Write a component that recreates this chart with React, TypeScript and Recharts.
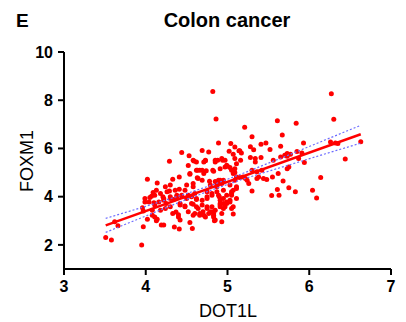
import React from 'react';
import { ScatterChart, Scatter, XAxis, YAxis } from 'recharts';

const xTicks = [3, 4, 5, 6, 7];
const yTicks = [2, 4, 6, 8, 10];

// [DOT1L, FOXM1]
const samples: [number, number][] = [
  [3.51, 2.31], [3.58, 2.2], [3.62, 2.96], [3.66, 2.79], [3.95, 2.0], [3.97, 2.75],
  [3.96, 3.54], [3.97, 3.41], [3.99, 3.78], [3.99, 3.92], [4.05, 3.97], [4.04, 3.78],
  [4.02, 4.72], [4.14, 4.57], [4.09, 4.17], [4.07, 4.02], [4.11, 4.06], [4.1, 3.75],
  [4.11, 3.65], [4.08, 3.44], [4.08, 3.23], [4.02, 3.06], [4.11, 3.16], [4.13, 3.0],
  [4.14, 3.06], [4.19, 2.82], [4.16, 3.78], [4.22, 3.85], [4.18, 3.44], [4.24, 3.51],
  [4.25, 3.72], [4.13, 4.27], [4.18, 4.13], [4.21, 4.0], [4.22, 3.92], [4.26, 4.2],
  [4.29, 4.24], [4.24, 4.41], [4.3, 4.48], [4.29, 5.47], [4.33, 4.72], [4.41, 4.82],
  [4.44, 5.83], [4.3, 4.0], [4.3, 3.92], [4.34, 3.88], [4.38, 4.0], [4.38, 4.06],
  [4.44, 4.02], [4.44, 4.06], [4.36, 4.27], [4.41, 4.31], [4.48, 4.27], [4.52, 4.06],
  [4.5, 4.48], [4.58, 4.55], [4.58, 4.41], [4.6, 4.13], [4.64, 4.75], [4.69, 4.68],
  [4.63, 4.78], [4.54, 4.93], [4.54, 4.96], [4.52, 5.29], [4.53, 5.7], [4.59, 5.48],
  [4.58, 5.51], [4.62, 5.44], [4.73, 5.49], [4.71, 5.44], [4.73, 5.51], [4.69, 5.91],
  [4.77, 5.85], [4.82, 8.36], [4.86, 7.22], [4.89, 6.23], [4.62, 5.1], [4.63, 5.1],
  [4.66, 5.1], [4.69, 5.1], [4.71, 4.96], [4.74, 5.07], [4.82, 5.1], [4.83, 5.05],
  [4.91, 5.16], [4.85, 5.51], [4.88, 5.51], [4.94, 5.51], [4.85, 5.44], [5.0, 5.26],
  [5.03, 5.21], [4.97, 5.23], [4.99, 5.3], [5.07, 5.1], [5.09, 5.0], [5.05, 5.1],
  [5.07, 4.96], [5.09, 5.16], [5.11, 5.37], [4.93, 5.58], [4.97, 5.51], [5.04, 6.2],
  [5.09, 6.06], [5.14, 5.9], [5.02, 5.88], [5.07, 5.76], [5.15, 5.9], [5.17, 5.81],
  [5.09, 5.58], [5.16, 5.51], [5.21, 6.88], [5.3, 6.48], [5.28, 6.07], [5.32, 5.95],
  [5.41, 6.17], [5.47, 6.23], [5.52, 5.96], [5.65, 6.09], [5.61, 7.15], [5.67, 6.56],
  [5.84, 7.04], [5.93, 6.23], [6.27, 8.27], [6.3, 7.21], [6.26, 6.27], [6.32, 6.23],
  [6.35, 6.2], [6.63, 6.28], [5.28, 5.62], [5.34, 5.58], [5.34, 5.44], [5.41, 5.62],
  [5.56, 5.51], [5.65, 5.65], [5.73, 5.68], [5.73, 5.79], [5.77, 5.76], [5.85, 5.87],
  [5.91, 5.81], [5.7, 5.72], [5.87, 5.58], [5.94, 5.42], [5.75, 5.23], [6.44, 5.56],
  [6.14, 4.79], [6.04, 4.27], [6.09, 3.94], [5.83, 4.2], [5.75, 4.37], [5.68, 4.65],
  [5.54, 4.05], [5.63, 4.06], [5.61, 4.3], [5.62, 4.96], [5.55, 4.82], [5.48, 4.71],
  [5.38, 4.82], [5.42, 5.1], [5.3, 4.23], [5.26, 4.55], [5.24, 4.68], [5.19, 4.82],
  [5.15, 4.79], [5.11, 4.82], [5.22, 4.75], [5.3, 5.1], [5.36, 5.03], [5.44, 4.75],
  [5.36, 4.75], [5.73, 5.16], [4.78, 4.64], [4.85, 4.63], [4.89, 4.68], [4.87, 4.55],
  [4.93, 4.55], [4.91, 4.68], [4.79, 4.48], [4.91, 4.61], [4.95, 4.68], [4.75, 4.2],
  [4.81, 4.13], [4.89, 4.06], [4.75, 4.0], [4.81, 4.06], [4.87, 4.2], [4.9, 4.0],
  [4.95, 3.92], [4.99, 4.06], [5.05, 4.13], [5.11, 3.92], [5.03, 4.48], [5.09, 4.68],
  [5.11, 4.34], [4.87, 4.41], [5.11, 4.41], [5.07, 4.27], [5.05, 4.06], [5.05, 4.2],
  [4.95, 4.27], [5.03, 3.85], [4.99, 3.72], [5.07, 3.58], [5.05, 3.51], [4.95, 3.51],
  [4.91, 3.72], [5.07, 3.28], [4.93, 2.96], [4.84, 3.0], [4.85, 3.03], [4.83, 3.16],
  [4.83, 3.3], [4.77, 3.3], [4.82, 3.37], [4.71, 3.23], [4.79, 3.37], [4.75, 3.58],
  [4.97, 3.58], [4.99, 3.78], [4.91, 3.85], [4.95, 3.72], [4.91, 3.58], [5.03, 3.78],
  [4.7, 3.37], [4.64, 3.51], [4.6, 3.3], [4.66, 3.3], [4.58, 3.69], [4.62, 3.88],
  [4.56, 3.72], [4.62, 3.58], [4.69, 3.65], [4.75, 3.51], [4.81, 3.58], [4.85, 3.44],
  [4.91, 3.65], [4.42, 3.72], [4.48, 3.58], [4.52, 3.37], [4.58, 3.23], [4.66, 3.23],
  [4.73, 3.16], [4.83, 3.23], [4.93, 3.3], [4.42, 3.65], [4.48, 3.61], [4.37, 3.36],
  [4.4, 3.25], [4.4, 3.16], [4.42, 3.03], [4.33, 3.3], [4.3, 3.58], [4.22, 2.82],
  [4.35, 2.74], [4.41, 2.66], [4.54, 2.93], [4.57, 2.68], [4.5, 3.92], [4.56, 4.0],
  [4.62, 3.92], [4.69, 3.85], [4.75, 3.92],
];

// regression line ends
const fitX = [3.51, 6.63];
const fitY = [2.81, 6.59];

// 95% confidence band
const bandX = [3.51, 4.0, 4.5, 4.85, 5.2, 5.7, 6.2, 6.63];
const bandUpper = [3.1, 3.6, 4.13, 4.53, 4.98, 5.66, 6.36, 6.96];
const bandLower = [2.52, 3.2, 3.89, 4.33, 4.74, 5.26, 5.78, 6.22];

const pointData = samples.map(([x, y]) => ({ x, y }));
const fitData = fitX.map((x, i) => ({ x, y: fitY[i] }));
const upperData = bandX.map((x, i) => ({ x, y: bandUpper[i] }));
const lowerData = bandX.map((x, i) => ({ x, y: bandLower[i] }));

const FONT = "'Liberation Sans', Arial, Helvetica, sans-serif";

const Dot = (p: any) => <circle cx={p.cx} cy={p.cy} r={2.5} fill="#ff0000" />;
const NoDot = () => <g />;

const axisStyle = { stroke: '#000', strokeWidth: 2 };
const tickStyle = { fill: '#000', fontSize: 16, fontWeight: 700, fontFamily: FONT };

export default function App() {
  return (
    <div style={{ position: 'relative', width: 406, height: 322, background: '#fff' }}>
      <style>{`html,body{margin:0;padding:0;overflow:hidden;background:#fff;}`}</style>
      <ScatterChart width={406} height={322} margin={{ top: 52, right: 15, bottom: 13, left: 24 }}>
        <XAxis
          type="number"
          dataKey="x"
          domain={[3, 7]}
          ticks={xTicks}
          allowDataOverflow
          height={40}
          axisLine={axisStyle}
          tickLine={axisStyle}
          tickSize={6}
          tickMargin={6}
          tick={tickStyle}
        />
        <YAxis
          type="number"
          dataKey="y"
          domain={[1, 10]}
          ticks={yTicks}
          allowDataOverflow
          width={40}
          axisLine={axisStyle}
          tickLine={axisStyle}
          tickSize={6}
          tickMargin={5}
          tick={tickStyle}
        />
        <Scatter data={pointData} shape={Dot} isAnimationActive={false} />
        <Scatter
          data={upperData}
          shape={NoDot}
          line={{ stroke: '#6b6bff', strokeWidth: 1.2, strokeDasharray: '2 2' }}
          isAnimationActive={false}
        />
        <Scatter
          data={lowerData}
          shape={NoDot}
          line={{ stroke: '#6b6bff', strokeWidth: 1.2, strokeDasharray: '2 2' }}
          isAnimationActive={false}
        />
        <Scatter
          data={fitData}
          shape={NoDot}
          line={{ stroke: '#ff0000', strokeWidth: 2.5 }}
          isAnimationActive={false}
        />
      </ScatterChart>
      <svg
        width={406}
        height={322}
        style={{ position: 'absolute', left: 0, top: 0, pointerEvents: 'none' }}
      >
        <text x={16} y={27} fontFamily={FONT} fontSize={19} fontWeight={700} fill="#000">E</text>
        <text x={227} y={27} textAnchor="middle" fontFamily={FONT} fontSize={20} fontWeight={700} fill="#000">
          Colon cancer
        </text>
        <text x={228} y={317} textAnchor="middle" fontFamily={FONT} fontSize={18} fill="#000">DOT1L</text>
        <text
          x={32.5}
          y={161}
          textAnchor="middle"
          fontFamily={FONT}
          fontSize={18}
          fill="#000"
          transform="rotate(-90 32.5 161)"
        >
          FOXM1
        </text>
      </svg>
    </div>
  );
}
